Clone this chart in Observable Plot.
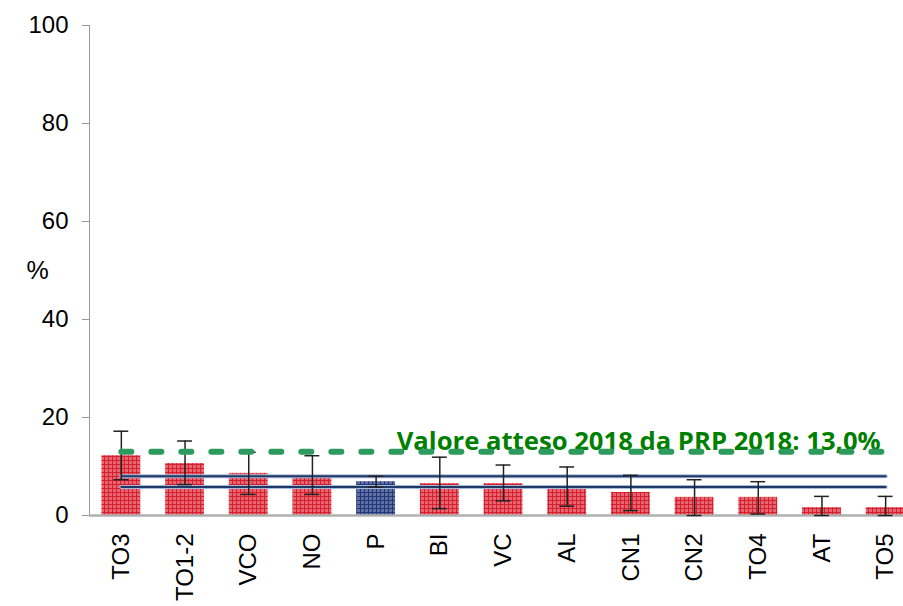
<!DOCTYPE html>
<html><head><meta charset="utf-8">
<script src="https://cdn.jsdelivr.net/npm/d3@7"></script>
<script src="https://cdn.jsdelivr.net/npm/@observablehq/plot@0.6"></script>
<style>body{margin:0;background:#fff;}</style>
</head><body><div id="chart"></div>
<script>
const categories = ["TO3","TO1-2","VCO","NO","P","BI","VC","AL","CN1","CN2","TO4","AT","TO5"];
const values = [12.2,10.6,8.6,8.1,6.9,6.5,6.5,5.9,4.7,3.7,3.7,1.6,1.6];
const lower = [7.3,6.3,4.3,4.3,5.8,1.4,3.0,1.9,1.0,0.0,0.3,0.0,0.0];
const upper = [17.2,15.2,12.9,12.2,8.0,11.9,10.3,9.9,8.2,7.3,6.9,3.9,3.9];
const highlighted = "P";
const ciRegion = [5.8, 8.0];
const expected = 13.0;
const expectedLabel = "Valore atteso 2018 da PRP 2018: 13,0%";
const yTicks = [0, 20, 40, 60, 80, 100];
const yLabel = "%";

const data = categories.map((c, i) => ({cat: c, v: values[i], lo: lower[i], hi: upper[i]}));
const ends = [categories[0], categories[categories.length - 1]];
const refRows = ciRegion.flatMap(v => ends.map(c => ({cat: c, v})));
const expRows = ends.map(c => ({cat: c, v: expected}));

const chart = Plot.plot({
  width: 903, height: 606,
  marginTop: 25, marginBottom: 91, marginLeft: 89, marginRight: -14,
  style: {fontFamily: "'Liberation Sans', Arial, sans-serif", background: "white", overflow: "hidden"},
  x: {domain: categories, paddingInner: 0.39, paddingOuter: 0.195, round: false, axis: null},
  y: {domain: [0, 100], axis: null},
  marks: [
    Plot.axisY({ticks: yTicks, tickSize: 7, tickPadding: 14, fontSize: 24, stroke: "#999", fill: "black", label: null, tickFormat: d => d}),
    Plot.frame({anchor: "left", stroke: "#999"}),
    Plot.axisX({tickSize: 0, tickPadding: 18, tickRotate: -90, fontSize: 24, fill: "black", label: null}),
    Plot.text([yLabel], {frameAnchor: "left", dx: -63, fontSize: 25, fill: "black"}),
    Plot.barY(data.filter(d => d.cat !== highlighted), {x: "cat", y: "v", fill: "url(#redgrid)"}),
    Plot.barY(data.filter(d => d.cat === highlighted), {x: "cat", y: "v", fill: "url(#bluegrid)"}),
    Plot.ruleY([0], {stroke: "#b0b0b0", strokeWidth: 2.5}),
    Plot.lineY(refRows, {x: "cat", y: "v", z: "v", stroke: "#a8b8d8", strokeWidth: 4}),
    Plot.lineY(refRows, {x: "cat", y: "v", z: "v", stroke: "#1F3864", strokeWidth: 2}),
    Plot.ruleX(data, {x: "cat", y1: "lo", y2: "hi", stroke: "#222", strokeWidth: 1.5}),
    Plot.tickY(data, {x: "cat", y: "hi", inset: 12, stroke: "#222", strokeWidth: 1.5}),
    Plot.tickY(data, {x: "cat", y: "lo", inset: 12, stroke: "#222", strokeWidth: 1.5}),
    Plot.text([{cat: ends[1], v: expected, label: expectedLabel}], {x: "cat", y: "v", text: "label", textAnchor: "end", lineAnchor: "bottom", dx: -5, dy: -2, fill: "#008000", fontWeight: "bold", fontSize: 25, fontFamily: "'Open Sans', sans-serif"}),
    Plot.lineY(expRows, {x: "cat", y: "v", stroke: "#2E9B5E", strokeWidth: 6, strokeDasharray: "10,20"})
  ]
});

const svg = d3.select(chart);
const defs = svg.insert("defs", ":first-child");
function grid(id, base, line) {
  const p = defs.append("pattern").attr("id", id).attr("patternUnits", "userSpaceOnUse").attr("width", 4).attr("height", 4);
  p.append("rect").attr("width", 4).attr("height", 4).attr("fill", base);
  p.append("rect").attr("width", 1).attr("height", 4).attr("fill", line);
  p.append("rect").attr("width", 4).attr("height", 1).attr("fill", line);
}
grid("redgrid", "#E8646E", "#D4202E");
grid("bluegrid", "#5F6FA2", "#22377A");
svg.selectAll("text").filter(function() { return this.textContent === expectedLabel; })
  .attr("textLength", 484).attr("lengthAdjust", "spacingAndGlyphs");

document.getElementById("chart").appendChild(chart);
</script>
</body></html>
